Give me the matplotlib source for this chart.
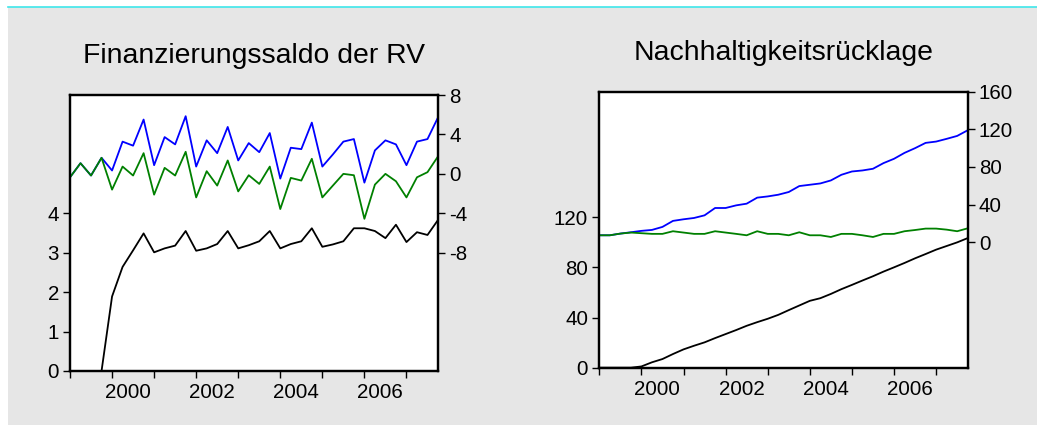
import matplotlib
matplotlib.use("Agg")
import matplotlib.pyplot as plt
from matplotlib.patches import Rectangle
from matplotlib.lines import Line2D
import numpy as np

plt.rcParams["font.family"] = ["Liberation Sans", "DejaVu Sans"]
plt.rcParams["axes.unicode_minus"] = False

# quarterly observations 1999Q1 .. 2007Q4
quarters = 1999 + np.arange(36) / 4.0
year_labels = ["2000", "2002", "2004", "2006"]

# --- Finanzierungssaldo der RV ---
saldo_black = [0, 0, 0, 0, 1.89, 2.64, 3.06, 3.49, 3.01, 3.11, 3.18, 3.55,
               3.05, 3.11, 3.22, 3.55, 3.11, 3.19, 3.29, 3.55, 3.11, 3.22, 3.29, 3.62,
               3.15, 3.21, 3.29, 3.62, 3.62, 3.55, 3.37, 3.71, 3.27, 3.52, 3.45, 3.83]
saldo_blue = [-0.35, 1.08, -0.17, 1.63, 0.34, 3.27, 2.86, 5.51, 0.88, 3.73, 2.99, 5.85,
              0.74, 3.40, 2.10, 4.76, 1.36, 3.12, 2.20, 4.14, -0.48, 2.65, 2.51, 5.20,
              0.74, 1.97, 3.27, 3.53, -0.89, 2.38, 3.40, 2.99, 0.88, 3.27, 3.53, 5.72]
saldo_green = [-0.35, 1.08, -0.17, 1.63, -1.60, 0.74, -0.17, 2.10, -2.11, 0.61, -0.17, 2.24,
               -2.39, 0.27, -1.19, 1.36, -1.78, -0.14, -1.02, 0.74, -3.57, -0.41, -0.68, 1.53,
               -2.39, -1.19, 0.0, -0.14, -4.56, -1.09, 0.0, -0.75, -2.39, -0.35, 0.17, 1.77]

# --- Nachhaltigkeitsruecklage ---
reserve_black = [0, 0, 0, 0, 1.0, 4.3, 6.9, 10.9, 14.6, 17.5, 20.2, 23.6,
                 26.8, 30.0, 33.4, 36.3, 39.0, 42.1, 45.9, 49.6, 53.3, 55.4, 58.8, 62.6,
                 66.0, 69.5, 72.9, 76.6, 80.0, 83.5, 87.2, 90.6, 94.1, 97.0, 99.9, 103.3]
reserve_blue = [7.4, 7.4, 9.2, 10.6, 12.1, 13.1, 16.3, 22.7, 24.4, 25.8, 28.6, 36.4,
                36.4, 39.2, 41.0, 47.4, 48.7, 50.5, 53.4, 59.7, 61.1, 62.5, 65.7, 71.7,
                75.2, 76.3, 78.1, 84.1, 88.7, 95.0, 100.0, 105.6, 107.0, 109.9, 113.0, 119.0]
reserve_green = [7.4, 7.4, 9.2, 10.3, 9.6, 8.9, 8.9, 11.7, 10.3, 8.9, 8.9, 11.7,
                 10.3, 8.9, 7.4, 11.7, 8.9, 8.9, 7.4, 10.6, 7.4, 7.4, 5.6, 8.9,
                 8.9, 7.4, 5.6, 8.9, 8.9, 11.7, 13.0, 14.5, 14.5, 13.4, 11.7, 14.8]

W, H = 1037, 425
fig = plt.figure(figsize=(W / 100, H / 100), dpi=100, facecolor="white")
fig.patches.append(Rectangle((8 / W, 0), 1 - 8 / W, (H - 7) / H, transform=fig.transFigure,
                             facecolor="#e6e6e6", edgecolor="none", zorder=-10))
fig.lines.append(Line2D([8 / W, 1], [(H - 7) / H] * 2, transform=fig.transFigure,
                        color="#3ee6ea", lw=1.2))

tick_fs = 14.8


def style_panel(ax, ax2, title):
    ax.set_facecolor("white")
    ax.set_xlim(1999, 1999 + 35 / 4.0)
    ax.set_xticks(np.arange(1999, 2008))
    ax.set_xticklabels([])
    ax.set_xticks([int(y) + 0.375 for y in year_labels], minor=True)
    ax.set_xticklabels(year_labels, minor=True)
    ax.tick_params(axis="x", which="major", direction="out", length=5, width=1)
    ax.tick_params(axis="x", which="minor", length=0, pad=8.5, labelsize=tick_fs)
    ax.tick_params(axis="y", direction="out", length=5, width=1, pad=3, labelsize=tick_fs)
    ax2.tick_params(axis="y", direction="out", length=5, width=1, pad=3, labelsize=tick_fs)
    for a in (ax, ax2):
        for s in a.spines.values():
            s.set_linewidth(1.6)
            s.set_color("black")
    ax.set_title(title, fontsize=20.4, pad=23)


# left panel
ax = fig.add_axes([70 / W, (H - 371) / H, 368 / W, 276 / H])
ax2 = ax.twinx()
ax.plot(quarters, saldo_black, color="black", lw=1.3)
ax2.plot(quarters, saldo_blue, color="#0000ff", lw=1.3)
ax2.plot(quarters, saldo_green, color="#008000", lw=1.3)
ax.set_ylim(0, 7)
ax.set_yticks([0, 1, 2, 3, 4])
ax2.set_ylim(-20, 8)
ax2.set_yticks([-8, -4, 0, 4, 8])
style_panel(ax, ax2, "Finanzierungssaldo der RV")

# right panel
bx = fig.add_axes([599.3 / W, (H - 367.7) / H, 368.4 / W, 276 / H])
bx2 = bx.twinx()
bx.plot(quarters, reserve_black, color="black", lw=1.3)
bx2.plot(quarters, reserve_blue, color="#0000ff", lw=1.3)
bx2.plot(quarters, reserve_green, color="#008000", lw=1.3)
bx.set_ylim(0, 220)
bx.set_yticks([0, 40, 80, 120])
bx2.set_ylim(-400 / 3.0, 160)
bx2.set_yticks([0, 40, 80, 120, 160])
style_panel(bx, bx2, "Nachhaltigkeitsrücklage")

fig.savefig("out.png", dpi=100, facecolor=fig.get_facecolor())
